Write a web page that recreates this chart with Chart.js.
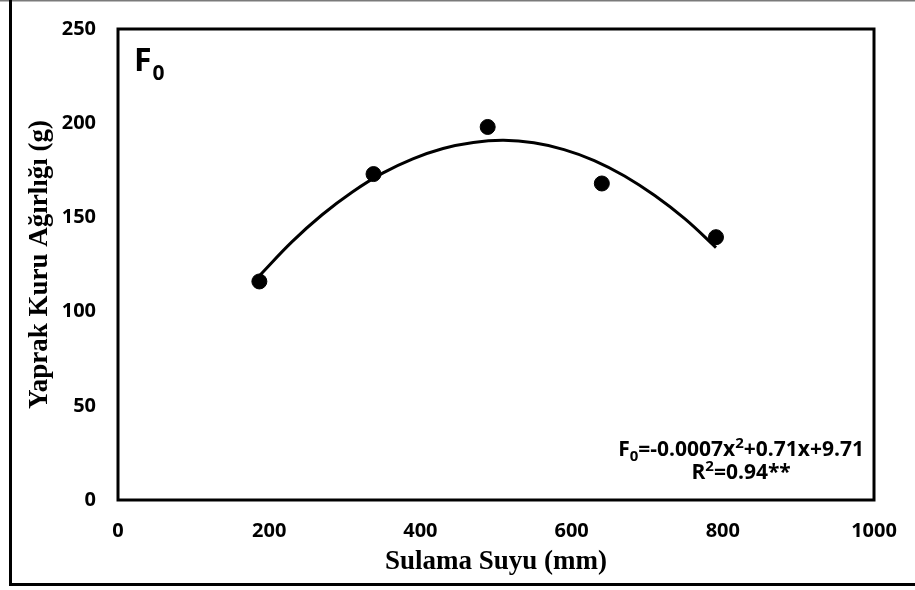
<!DOCTYPE html>
<html>
<head>
<meta charset="utf-8">
<script src="https://cdn.jsdelivr.net/npm/chart.js@4"></script>
<style>
  html, body { margin: 0; padding: 0; background: #fff; }
  #wrap { width: 915px; height: 590px; position: relative; }
</style>
</head>
<body>
<div id="wrap"><canvas id="c"></canvas></div>
<script>
// Irrigation water (mm) vs. leaf dry weight (g), treatment F0
const irrigation = [187, 338, 489, 640, 791];
const leafDryWeight = [116, 173, 198, 168, 139.5];

// Fitted quadratic trend, sampled along the drawn curve
const trendX = [186.5, 230, 270, 310, 350, 390, 430, 470, 510, 550, 590, 630, 670, 710, 750, 791];
const trendY = [118.8, 137, 151.4, 163.5, 173.5, 181.1, 186.6, 189.8, 190.9, 189.6, 186, 180.2, 172, 161.6, 149.2, 134];

const xTicks = [0, 200, 400, 600, 800, 1000];
const yTicks = [0, 50, 100, 150, 200, 250];

const xTitle = 'Sulama Suyu (mm)';
const yTitle = 'Yaprak Kuru Ağırlığı (g)';
const panelLabel = ['F', '0'];
const equationLine = [['F', 'n'], ['0', 'sub'], ['=-0.0007x', 'n'], ['2', 'sup'], ['+0.71x+9.71', 'n']];
const r2Line = [['R', 'n'], ['2', 'sup'], ['=0.94**', 'n']];

const tickFont = { family: '"Open Sans", sans-serif', size: 20, weight: 'bold' };
const titleFont = { family: '"Liberation Serif", "Times New Roman", serif', size: 27, weight: 'bold' };

// Draws a line of text with subscript / superscript runs
function drawRich(ctx, parts, x, y, size, align) {
  const fam = '"Open Sans", sans-serif';
  const small = Math.round(size * 0.7);
  const widths = parts.map(([t, k]) => {
    ctx.font = 'bold ' + (k === 'n' ? size : small) + 'px ' + fam;
    return ctx.measureText(t).width;
  });
  const total = widths.reduce((a, b) => a + b, 0);
  let cx = align === 'right' ? x - total : (align === 'center' ? x - total / 2 : x);
  ctx.textBaseline = 'alphabetic';
  ctx.textAlign = 'left';
  parts.forEach(([t, k], i) => {
    ctx.font = 'bold ' + (k === 'n' ? size : small) + 'px ' + fam;
    let dy = 0;
    if (k === 'sub') dy = size * 0.22;
    if (k === 'sup') dy = -size * 0.36;
    ctx.fillText(t, cx, y + dy);
    cx += widths[i];
  });
  return total;
}

function noPadding(s) {
  s.paddingTop = 0; s.paddingBottom = 0; s.paddingLeft = 0; s.paddingRight = 0;
}

const decorations = {
  id: 'decorations',
  afterDraw(chart) {
    const { ctx, chartArea: a, width } = chart;
    ctx.save();
    // outer figure border
    ctx.strokeStyle = '#7a7a7a';
    ctx.lineWidth = 2;
    ctx.beginPath(); ctx.moveTo(0, 0.5); ctx.lineTo(width, 0.5); ctx.stroke();
    ctx.strokeStyle = '#000';
    ctx.lineWidth = 3;
    ctx.beginPath();
    ctx.moveTo(10.5, 0); ctx.lineTo(10.5, 584.5); ctx.lineTo(width, 584.5);
    ctx.stroke();
    // plot frame
    ctx.lineWidth = 3;
    ctx.strokeRect(a.left, a.top, a.right - a.left, a.bottom - a.top);
    // panel label
    ctx.fillStyle = '#000';
    ctx.font = 'bold 32px "Open Sans", sans-serif';
    ctx.textAlign = 'left';
    ctx.textBaseline = 'alphabetic';
    ctx.fillText(panelLabel[0], a.left + 16, a.top + 42);
    const fw = ctx.measureText(panelLabel[0]).width;
    ctx.font = 'bold 21px "Open Sans", sans-serif';
    ctx.fillText(panelLabel[1], a.left + 16 + fw + 1, a.top + 51);
    // regression equation
    const eqRight = a.right - 10;
    const w = drawRich(ctx, equationLine, eqRight, a.bottom - 44, 21, 'right');
    drawRich(ctx, r2Line, eqRight - w / 2, a.bottom - 21, 21, 'center');
    ctx.restore();
  }
};

new Chart(document.getElementById('c'), {
  type: 'scatter',
  data: {
    datasets: [
      {
        label: 'F0',
        data: irrigation.map((x, i) => ({ x, y: leafDryWeight[i] })),
        backgroundColor: '#000',
        borderColor: '#000',
        pointRadius: 7.5,
        pointHoverRadius: 7.5,
        showLine: false
      },
      {
        label: 'Trend',
        data: trendX.map((x, i) => ({ x, y: trendY[i] })),
        borderColor: '#000',
        borderWidth: 3,
        pointRadius: 0,
        showLine: true,
        tension: 0.4,
        fill: false
      }
    ]
  },
  options: {
    responsive: true,
    maintainAspectRatio: false,
    animation: false,
    events: [],
    layout: { autoPadding: false, padding: { top: 29, right: 41, left: 0, bottom: 0 } },
    plugins: { legend: { display: false }, tooltip: { enabled: false } },
    scales: {
      x: {
        type: 'linear',
        min: 0, max: 1000,
        afterBuildTicks: s => { s.ticks = xTicks.map(v => ({ value: v })); },
        afterFit: s => { s.height = 90; noPadding(s); },
        grid: { display: false, drawTicks: false },
        border: { display: false },
        ticks: { font: tickFont, color: '#000', padding: 19, maxRotation: 0, callback: v => String(v) },
        title: { display: true, text: xTitle, font: titleFont, color: '#000', padding: { top: 0, bottom: 12 } }
      },
      y: {
        type: 'linear',
        min: 0, max: 250,
        afterBuildTicks: s => { s.ticks = yTicks.map(v => ({ value: v })); },
        afterFit: s => { s.width = 118; noPadding(s); },
        grid: { display: false, drawTicks: false },
        border: { display: false },
        ticks: { font: tickFont, color: '#000', padding: 22, callback: v => String(v) },
        title: { display: true, text: yTitle, font: titleFont, color: '#000', padding: { top: 24, bottom: 0 } }
      }
    }
  },
  plugins: [decorations]
});
</script>
</body>
</html>
